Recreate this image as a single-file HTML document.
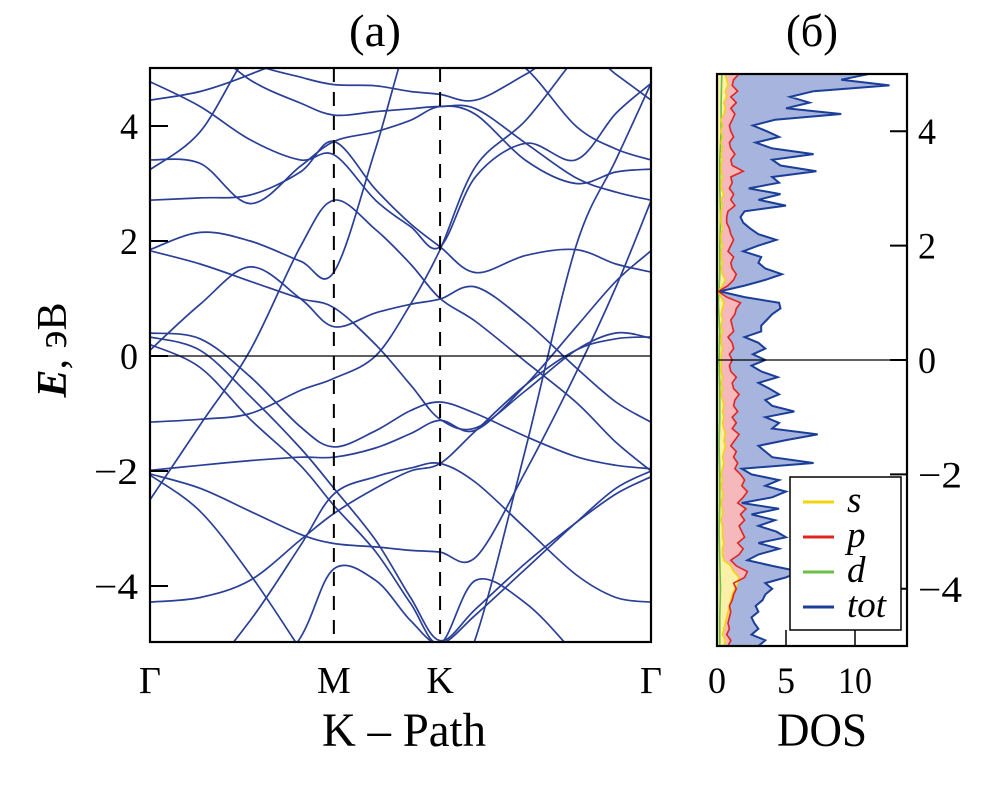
<!DOCTYPE html>
<html><head><meta charset="utf-8"><style>
html,body{margin:0;padding:0;background:#fff;}
svg{display:block;font-family:"Liberation Serif",serif;}
</style></head><body>
<svg id="chart" width="1004" height="794" viewBox="0 0 1004 794">
<defs>
<clipPath id="clipL"><rect x="150" y="68" width="501" height="574"/></clipPath>
<clipPath id="clipR"><rect x="717" y="74" width="190" height="572"/></clipPath>
</defs>
<g id="left"></g>
<g id="right"></g>
<g id="labels"></g>
</svg>
<script>
const NS="http://www.w3.org/2000/svg";
// ---------- data ----------
const kNodes=[0,0.1,0.2,0.3,0.367,0.45,0.52,0.579,0.65,0.75,0.85,0.93,1];
const kLabels=["Γ","M","K","Γ"];
const kLabelPos=[0,0.367,0.579,1];
const yTicks=[-4,-2,0,2,4];
const yTickLabels=["−4","−2","0","2","4"];
const bandA=[4.77,4.34,3.76,3.41,3.5,2.71,2.25,1.9,3.12,3.7,3.41,4.22,4.74];
const bandB=[3.41,3.35,2.65,3.3,3.73,3.9,4.1,4.34,4.2,3.4,3.0,3.2,3.25];
const bandC=[3.24,3.9,5.3,6,6,6,6,6,6,6,6,6,6];
const bandD=[2.71,2.75,2.8,3.2,3.73,2.9,2.3,1.9,1.45,1.75,1.85,1.6,1.46];
const bandE=[1.85,2.15,2.0,1.65,1.46,3.6,5.6,6,6,6,6,6,6];
const bandF=[1.83,1.6,1.3,1.0,0.84,0.2,-0.5,-1.1,-1.25,-0.6,0.1,0.4,0.31];
const bandG=[0.1,0.9,1.55,1.0,0.51,0.75,0.9,0.99,1.2,0.6,-0.2,-0.8,-1.15];
const bandH=[-2.5,-1.2,0.1,1.9,2.71,2.2,1.6,1.0,0.6,-0.1,-0.8,-1.5,-2.0];
const bandI=[-6,-6,-6,-6,-6,-6,-6,-6,-4.9,-1.6,1.9,3.41,4.74];
const bandJ=[-1.15,-1.1,-1.0,-0.6,-0.39,0.0,0.9,1.85,3.3,4.1,5.2,6,6];
const bandK1=[-1.99,-1.9,-1.82,-1.76,-1.76,-1.6,-1.35,-1.12,-1.29,-0.5,0.5,1.3,1.83];
const bandK2=[-2.07,-2.7,-3.8,-5.1,-6,-6,-6,-6,-6,-6,-6,-6,-6];
const bandK3=[-2.05,-2.3,-2.7,-3.1,-3.26,-3.32,-3.38,-3.41,-3.5,-2.0,-0.3,1.2,2.7];
const bandK4=[-4.28,-4.2,-3.9,-3.2,-2.74,-2.3,-2.0,-1.87,-1.3,-0.5,0.1,0.3,0.33];
const bandK6=[0.33,0.1,-0.7,-1.6,-2.3,-3.2,-4.2,-4.95,-4.4,-3.6,-2.9,-2.4,-2.1];
const bandK7=[0.2,-0.2,-1.1,-1.9,-2.6,-3.4,-4.3,-5.0,-3.9,-4.3,-5.2,-6,-6];
const bandK8=[-6,-5.6,-4.6,-3.3,-2.4,-2.1,-1.95,-1.87,-2.2,-3.0,-3.8,-4.2,-4.28];
const bandK10=[-6,-6,-6,-4.9,-3.7,-3.9,-4.6,-5.0,-4.5,-3.7,-2.9,-2.3,-2.0];
const bandL=[0.4,0.3,-0.36,-1.23,-1.58,-1.3,-0.95,-0.8,-1.0,-1.4,-1.75,-1.9,-1.96];
const bandU1=[4.45,4.6,4.9,5.3,6,6,6,6,6,6,6,6,6];
const bandU3=[6,5.6,5.1,4.85,4.72,4.7,4.6,4.55,4.45,4.9,5.4,4.9,4.45];
const bandU4=[6,5.5,4.8,4.4,4.19,4.25,4.3,4.34,4.3,3.7,3.1,2.85,2.71];
const bandU5=[6,6,6,6,6,6,6,6,5.5,5.0,4.0,3.6,3.41];
const bands=[bandA,bandB,bandC,bandD,bandE,bandF,bandG,bandH,bandI,bandJ,bandK1,bandK2,bandK3,bandK4,bandK6,bandK7,bandK8,bandK10,bandL,bandU1,bandU3,bandU4,bandU5];
// DOS (energies -5..5 step 0.1)
const dosE=[];for(let i=0;i<=100;i++)dosE.push(-5+0.1*i);
const dosTot=[3,3.5,2.5,3,2.7,2.5, 3,2.8,3.3,3.5,4, 3.5,5,6,4,2.2, 3,4.5,3,5,4.3, 3,4.2,2.5,4.5,1.8, 4,5,3.5,4.5,2.5, 1.8,7,4,3.5,3, 5,7.3,4,4.5,3.5, 5.6,4,3.5,4.5,3.8, 3,4.4,3.2,2.5,3.5, 2.6,3.5,3,2,3.2, 3.2,3.6,4,4.6,4.5, 2,0.2,2,3.5,4.7, 3.5,3,3.2,1.9,3, 4.3,3,2.4,1.9,1.7, 2,5,3,4.6,2.3, 4.5,4,7.2,4.6,4, 7,4,2.8,4.5,3.6, 2.6,4.2,9,5,6.7, 5.3,7,12.5,9,11];
const dosP=[0.8,1.0,0.7,0.9,0.8,0.9, 1.0,0.9,1.1,1.2,1.4, 1.2,2.0,2.2,1.4,1.0, 1.6,1.9,1.5,2.0,1.8, 1.6,2.0,1.7,2.1,1.5, 1.9,2.2,1.8,2.0,1.7, 1.3,1.5,1.2,1.4,1.0, 1.3,1.6,1.1,1.4,1.1, 1.5,1.2,1.3,1.6,1.2, 1.1,1.4,1.0,0.9,1.1, 0.9,1.2,1.1,0.8,1.2, 1.1,1.0,1.3,1.4,1.7, 0.7,0.1,0.8,1.2,1.4, 1.1,1.0,1.2,0.8,1.0, 1.2,1.0,0.9,0.7,0.7, 0.8,1.3,1.0,1.2,0.9, 1.1,1.0,1.9,1.1,1.0, 1.3,1.0,0.9,1.2,1.0, 0.9,1.1,1.3,1.0,1.4, 1.0,1.5,1.1,1.2,1.6];
const dosS=[0.5,0.6,0.4,0.5,0.6,0.7, 0.8,0.9,1.0,1.1,1.3, 1.5,1.6,1.2,1.0,0.5, 0.4,0.4,0.5,0.4,0.4, 0.4,0.3,0.4,0.4,0.3, 0.4,0.4,0.3,0.4,0.3, 0.4,0.5,0.4,0.5,0.6, 0.5,0.6,0.5,0.4,0.5, 0.4,0.5,0.4,0.3,0.4, 0.3,0.4,0.3,0.3,0.3, 0.3,0.4,0.3,0.3,0.4, 0.3,0.4,0.3,0.4,0.5, 0.3,0.1,0.4,0.6,0.4, 0.3,0.4,0.3,0.3,0.4, 0.3,0.3,0.4,0.3,0.3, 0.3,0.4,0.3,0.5,0.3, 0.3,0.4,0.3,0.3,0.4, 0.3,0.4,0.3,0.4,0.3, 0.4,0.3,0.5,0.6,0.5, 0.7,0.6,0.8,0.7,0.6];
const dosDE=[-5,-4.5,-4,-3.5,-3,-2.5,-2,-1.5,-1,-0.5,0,0.5,1,1.5,2,2.5,3,3.5,4,4.5,5];
const dosD=[0.2,0.2,0.25,0.2,0.15,0.2,0.2,0.15,0.2,0.2,0.15,0.2,0.1,0.2,0.2,0.25,0.2,0.2,0.3,0.3,0.35];
const dosTicks=[0,5,10];
const legendNames=["s","p","d","tot"];
const legendColors=["#f2d40f","#e3241f","#6cbf45","#1b3f98"];
// ---------- scales ----------
const xK=k=>150+k*501;
const yL=e=>356-e*57.5;
const yR=e=>360-e*57.2;
const xD=v=>717+v*13.8;
function el(tag,attrs,parent){const e=document.createElementNS(NS,tag);for(const a in attrs)e.setAttribute(a,attrs[a]);parent.appendChild(e);return e;}
const L=document.getElementById('left'),R=document.getElementById('right'),T=document.getElementById('labels');
const gB=el('g',{'clip-path':'url(#clipL)'},L);


function catmull(px,py){let d=`M${px[0].toFixed(1)},${py[0].toFixed(1)}`;const n=px.length;
 for(let i=0;i<n-1;i++){const x0=px[Math.max(0,i-1)],y0=py[Math.max(0,i-1)],x1=px[i],y1=py[i],x2=px[i+1],y2=py[i+1],x3=px[Math.min(n-1,i+2)],y3=py[Math.min(n-1,i+2)];
 const c1x=x1+(x2-x0)/6,c1y=y1+(y2-y0)/6,c2x=x2-(x3-x1)/6,c2y=y2-(y3-y1)/6;
 d+=` C${c1x.toFixed(1)},${c1y.toFixed(1)} ${c2x.toFixed(1)},${c2y.toFixed(1)} ${x2.toFixed(1)},${y2.toFixed(1)}`;}return d;}
bands.forEach((b,i)=>{const p=el('path',{d:catmull(kNodes.map(xK),b.map(yL)),fill:'none',stroke:'#2a3f97','stroke-width':1.7},gB);
 
 });
const z=el('line',{x1:150,x2:651,y1:yL(0),y2:yL(0),stroke:'#000','stroke-width':1.2},L);

[0.367,0.579].forEach((k,i)=>{const d=el('line',{x1:xK(k),x2:xK(k),y1:68,y2:642,stroke:'#000','stroke-width':2,'stroke-dasharray':'14,10'},L);
 });
const fr=el('rect',{x:150,y:68,width:501,height:574,fill:'none',stroke:'#000','stroke-width':2.2},L);

yTicks.forEach((v,i)=>{el('line',{x1:150,x2:168,y1:yL(v),y2:yL(v),stroke:'#000','stroke-width':2},L);
 const t=el('text',{x:138,y:yL(v)+13,'text-anchor':'end','font-size':37,textLength:yTickLabels[i].length>1?44:18,lengthAdjust:'spacingAndGlyphs'},L);t.textContent=yTickLabels[i];
 });
kLabels.forEach((s,i)=>{const t=el('text',{x:xK(kLabelPos[i]),y:693,'text-anchor':'middle','font-size':38},T);t.textContent=s;
 });
const gD=el('g',{'clip-path':'url(#clipR)'},R);

function area(E,V,ys){let d=`M${xD(0)},${ys(E[0])}`;E.forEach((e,i)=>d+=` L${xD(V[i]).toFixed(1)},${ys(e).toFixed(1)}`);d+=` L${xD(0)},${ys(E[E.length-1])} Z`;return d;}
function line(E,V,ys){return E.map((e,i)=>(i?'L':'M')+xD(V[i]).toFixed(1)+','+ys(e).toFixed(1)).join(' ');}
el('path',{d:area(dosE,dosTot,yR),fill:'#a6b4de'},gD);
el('path',{d:area(dosE,dosP,yR),fill:'#f5b9bb'},gD);
el('path',{d:area(dosE,dosS,yR),fill:'#fbf0a8'},gD);
const ld=el('path',{d:line(dosDE,dosD,yR),fill:'none',stroke:'#6cbf45','stroke-width':1.6},gD);
const ls=el('path',{d:line(dosE,dosS,yR),fill:'none',stroke:'#f2d40f','stroke-width':1.6},gD);
const lp=el('path',{d:line(dosE,dosP,yR),fill:'none',stroke:'#e3241f','stroke-width':1.6},gD);
const lt=el('path',{d:line(dosE,dosTot,yR),fill:'none',stroke:'#1b3f98','stroke-width':2},gD);
const z2=el('line',{x1:717,x2:907,y1:yR(0),y2:yR(0),stroke:'#000','stroke-width':1.2},R);

const fr2=el('rect',{x:717,y:74,width:190,height:572,fill:'none',stroke:'#000','stroke-width':2.2},R);

yTicks.forEach((v,i)=>{el('line',{x1:890,x2:907,y1:yR(v),y2:yR(v),stroke:'#000','stroke-width':2},R);
 const t=el('text',{x:918,y:yR(v)+13,'text-anchor':'start','font-size':37,textLength:yTickLabels[i].length>1?44:18,lengthAdjust:'spacingAndGlyphs'},R);t.textContent=yTickLabels[i];
 });
dosTicks.forEach(v=>{el('line',{x1:xD(v),x2:xD(v),y1:646,y2:630,stroke:'#000','stroke-width':1.5},R);
 const t=el('text',{x:xD(v),y:693,'text-anchor':'middle','font-size':37,textLength:v>=10?34:18,lengthAdjust:'spacingAndGlyphs'},R);t.textContent=String(v);
 });
const lg=el('g',{},R);
el('rect',{x:790,y:477,width:111,height:153,fill:'#fff',stroke:'#000','stroke-width':1.5},lg);
legendNames.forEach((n,i)=>{const y=497+i*35;
 el('line',{x1:803,x2:834,y1:y+5,y2:y+5,stroke:legendColors[i],'stroke-width':3},lg);
 const t=el('text',{x:847,y:y+15,'font-size':37,'font-style':'italic'},lg);t.textContent=n;
 });
function txt(s,attrs,name){const t=el('text',attrs,T);t.textContent=s;return t;}
txt('(a)',{x:375,y:46,'text-anchor':'middle','font-size':46,textLength:52,lengthAdjust:'spacingAndGlyphs'},'panel-a-title');
txt('(б)',{x:812,y:46,'text-anchor':'middle','font-size':46,textLength:52,lengthAdjust:'spacingAndGlyphs'},'panel-b-title');
txt('K – Path',{x:322,y:746,'font-size':48,textLength:164,lengthAdjust:'spacingAndGlyphs'},'x-axis-title');
txt('DOS',{x:777,y:746,'font-size':48,textLength:90,lengthAdjust:'spacingAndGlyphs'},'dos-axis-title');
const yt=el('text',{transform:'translate(66,350) rotate(-90)','text-anchor':'middle','font-size':42},T);

const ts=el('tspan',{'font-style':'italic','font-weight':'bold'},yt);ts.textContent='E';
const ts2=el('tspan',{},yt);ts2.textContent=', эВ';
</script>
</body></html>
